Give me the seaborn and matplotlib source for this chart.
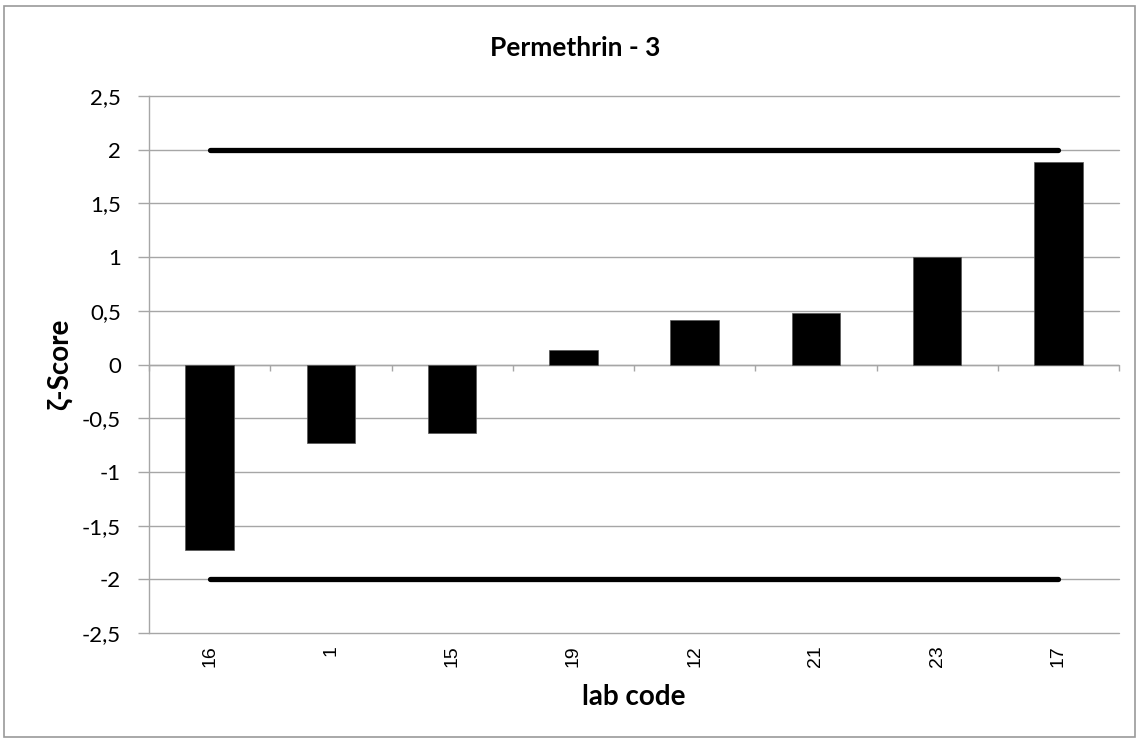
import matplotlib
matplotlib.use("Agg")
import matplotlib.pyplot as plt
import seaborn as sns
import numpy as np
import pandas as pd
from matplotlib.patches import Rectangle

labs = ["16", "1", "15", "19", "12", "21", "23", "17"]
zscores = [-1.725, -0.735, -0.64, 0.138, 0.414, 0.477, 1.0, 1.888]
upper_limit = [2, 2, 2, 2, 2, 2, 2, 2]
lower_limit = [-2, -2, -2, -2, -2, -2, -2, -2]
yticks = [-2.5, -2, -1.5, -1, -0.5, 0, 0.5, 1, 1.5, 2, 2.5]
title = "Permethrin - 3"
xlabel = "lab code"
ylabel = "ζ-Score"

sns.set_theme(style="white")
plt.rcParams['font.family'] = ['Lato', 'DejaVu Sans']
plt.rcParams['text.color'] = 'black'
plt.rcParams['xtick.labelcolor'] = 'black'
plt.rcParams['ytick.labelcolor'] = 'black'

W, H = 1139, 742
fig = plt.figure(figsize=(W / 100, H / 100), dpi=100)
ax = fig.add_axes([149 / W, 1 - 633 / H, (1119 - 149) / W, (633 - 96) / H])

df = pd.DataFrame({"lab": labs, "z": zscores})
sns.barplot(data=df, x="lab", y="z", order=labs, color="black", width=0.4,
            edgecolor="#555555", linewidth=0.5, saturation=1, ax=ax, zorder=3)

n = len(labs)
ax.plot(np.arange(n), upper_limit, color="black", lw=3.8, solid_capstyle="round", zorder=4)
ax.plot(np.arange(n), lower_limit, color="black", lw=3.8, solid_capstyle="round", zorder=4)

grid_c = "#a6a6a6"
ax.set_ylim(-2.5, 2.5)
ax.set_xlim(-0.5, n - 0.5)
ax.set_yticks(yticks)
ax.set_yticklabels([f"{v:g}".replace(".", ",") for v in yticks], fontsize=16, color="black")
ax.yaxis.grid(True, color=grid_c, lw=1.0)
for gl in ax.get_ygridlines():
    gl.set_clip_on(False)
ax.set_axisbelow(True)
ax.tick_params(axis="y", direction="out", length=8, width=1, color=grid_c, pad=12, left=True)

ax.set_xticks(np.arange(n))
ax.set_xticklabels(labs, rotation=90, fontsize=14, family=["Liberation Sans"], color="black")
ax.tick_params(axis="x", length=0, pad=9)

for s in ["top", "right", "bottom"]:
    ax.spines[s].set_visible(False)
ax.spines["left"].set_color(grid_c)
ax.spines["left"].set_linewidth(1.0)

# zero axis with tick marks at category boundaries
ax.axhline(0, color=grid_c, lw=1.0, zorder=2.5)
ax.vlines(np.arange(n + 1) - 0.5, 0.5 - 6 / 537, 0.5, transform=ax.get_xaxis_transform(),
          color=grid_c, lw=1.0, zorder=2.5, clip_on=False)

ax.set_xlabel("")
ax.set_ylabel("")
fig.text(575 / W, 1 - 48 / H, title, ha="center", va="center", fontsize=19, fontweight="bold")
fig.text(634 / W, 1 - 697 / H, xlabel, ha="center", va="center", fontsize=20, fontweight="bold")
fig.text(60 / W, 1 - 364 / H, ylabel, ha="center", va="center", fontsize=20, fontweight="bold",
         rotation=90)

fig.patches.append(Rectangle((4 / W, 1 - 737 / H), (1135 - 4) / W, (737 - 6) / H,
                             transform=fig.transFigure, fill=False, edgecolor="#9a9a9a", lw=1.2))

fig.savefig("out.png", dpi=100)
